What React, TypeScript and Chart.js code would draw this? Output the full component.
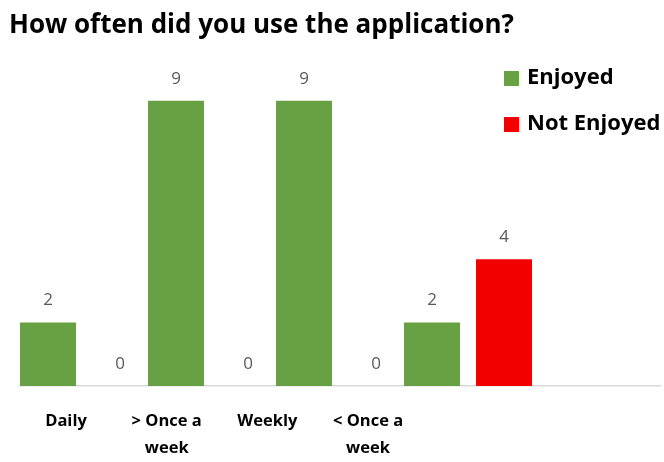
import React, { useEffect, useRef } from "react";
import { Chart, registerables } from "chart.js";

Chart.register(...registerables);

const titleText = "How often did you use the application?";
const categories = ["Daily", "> Once a week", "Weekly", "< Once a week"];
const seriesNames = ["Enjoyed", "Not Enjoyed"];
const enjoyed = [2, 9, 9, 2];
const notEnjoyed = [0, 0, 0, 4];
const seriesColors = ["#68A143", "#F20000"];
const yMax = 10;

const FONT = "'Open Sans', 'DejaVu Sans', sans-serif";

function wrapLabel(label: string, max = 8): string[] {
  const words = label.split(" ");
  const lines: string[] = [];
  let cur = "";
  for (const w of words) {
    const next = cur ? cur + " " + w : w;
    if (next.length > max && cur) {
      lines.push(cur);
      cur = w;
    } else {
      cur = next;
    }
  }
  if (cur) lines.push(cur);
  return lines;
}

const valueLabels = {
  id: "valueLabels",
  afterDatasetsDraw(chart: any) {
    const ctx = chart.ctx;
    ctx.save();
    ctx.font = `17px ${FONT}`;
    ctx.fillStyle = "#595959";
    ctx.textAlign = "center";
    ctx.textBaseline = "middle";
    chart.data.datasets.forEach((ds: any, di: number) => {
      const meta = chart.getDatasetMeta(di);
      meta.data.forEach((el: any, i: number) => {
        ctx.fillText(String(ds.data[i]), el.x, el.y - 22);
      });
    });
    ctx.restore();
  },
};

const sideLegend = {
  id: "sideLegend",
  afterDraw(chart: any) {
    const ctx = chart.ctx;
    ctx.save();
    ctx.font = `bold 22px ${FONT}`;
    ctx.textAlign = "left";
    ctx.textBaseline = "middle";
    chart.data.datasets.forEach((ds: any, di: number) => {
      const cy = 78 + di * 46;
      ctx.fillStyle = ds.backgroundColor;
      ctx.fillRect(504, cy - 7, 15, 15);
      ctx.fillStyle = "#000";
      ctx.fillText(ds.label, 527, cy);
    });
    ctx.restore();
  },
};

export default function App() {
  const ref = useRef<HTMLCanvasElement | null>(null);
  useEffect(() => {
    if (!ref.current) return;
    const chart = new Chart(ref.current, {
      type: "bar",
      data: {
        labels: categories,
        datasets: [
          {
            label: seriesNames[0],
            data: enjoyed,
            backgroundColor: seriesColors[0],
            categoryPercentage: 1.125,
            barPercentage: 0.7778,
          },
          {
            label: seriesNames[1],
            data: notEnjoyed,
            backgroundColor: seriesColors[1],
            categoryPercentage: 1.125,
            barPercentage: 0.7778,
          },
        ],
      },
      options: {
        responsive: false,
        animation: false,
        layout: { padding: { left: 9, right: 4, top: 0, bottom: 0 } },
        plugins: {
          legend: { display: false },
          tooltip: { enabled: false },
          title: {
            display: true,
            text: titleText,
            align: "start",
            color: "#000",
            font: { family: FONT, size: 26, weight: "bold", lineHeight: 1.2 },
            padding: { top: 10, bottom: 27.8 },
          },
        },
        scales: {
          x: {
            type: "category",
            labels: [...categories, ""],
            position: "bottom",
            grid: { display: false },
            border: { display: true, color: "#D9D9D9", width: 1.5 },
            ticks: { display: false },
            afterFit: (s: any) => {
              s.height = 0;
            },
          },
          x2: {
            type: "linear",
            position: "bottom",
            offset: false,
            bounds: "data",
            min: -0.457,
            max: 5.9,
            grid: { display: false, drawTicks: false, offset: false },
            border: { display: false },
            afterBuildTicks: (s: any) => {
              s.ticks = categories.map((_, i) => ({ value: i }));
            },
            ticks: {
              autoSkip: false,
              maxRotation: 0,
              padding: 22,
              color: "#000",
              font: { family: FONT, size: 16.5, weight: "bold", lineHeight: 1.62 },
              callback: (v: any) => wrapLabel(categories[v] ?? ""),
            },
            afterFit: (s: any) => {
              s.height = 76;
            },
          },
          y: {
            min: 0,
            max: yMax,
            display: true,
            grid: { display: false },
            border: { display: false },
            ticks: { display: false },
            afterFit: (s: any) => {
              s.width = 11;
            },
          },
        },
      },
      plugins: [valueLabels, sideLegend],
    });
    return () => chart.destroy();
  }, []);
  return (
    <div style={{ position: "fixed", left: 0, top: 0, width: 664, height: 462, background: "#fff" }}>
      <canvas ref={ref} width={664} height={462} style={{ width: 664, height: 462 }} />
    </div>
  );
}
